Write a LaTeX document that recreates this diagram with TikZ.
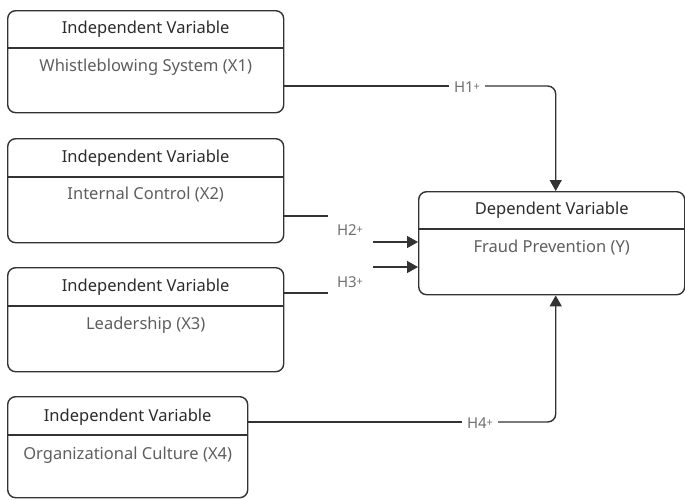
\documentclass[tikz,border=0pt]{standalone}
\usepackage{fontspec}
\setmainfont{Noto Sans}
\usetikzlibrary{arrows.meta,calc}
\definecolor{linec}{HTML}{333333}
\definecolor{titlec}{HTML}{2B2B2B}
\definecolor{subc}{HTML}{5E5E5E}
\definecolor{labc}{HTML}{707070}
\newcommand{\smallplus}{\raisebox{1.5pt}{\fontsize{11}{12}\selectfont +}}
\begin{document}
\begin{tikzpicture}[x=1pt,y=-1pt,
  varbox/.style={draw=linec,line width=1.4pt,rounded corners=8pt,anchor=north west,inner sep=0pt},
  divline/.style={draw=linec,line width=1.4pt},
  titletext/.style={text=titlec,font=\fontsize{16.5}{19}\selectfont,inner sep=0pt},
  subtext/.style={text=subc,font=\fontsize{16.5}{19}\selectfont,inner sep=0pt},
  hlab/.style={text=labc,font=\fontsize{15}{17}\selectfont,inner sep=5pt},
  conn/.style={draw=linec,line width=1.4pt},
  arr/.style={conn,-{Triangle[length=11pt,width=12pt]}}
]
\useasboundingbox (0,0) rectangle (685,499);
% boxes
\node[varbox,minimum width=276pt,minimum height=102pt] (b1) at (7,10) {};
\node[varbox,minimum width=276pt,minimum height=104pt] (b2) at (7,138) {};
\node[varbox,minimum width=276pt,minimum height=104pt] (b3) at (7,267) {};
\node[varbox,minimum width=240pt,minimum height=101pt] (b4) at (7,396) {};
\node[varbox,minimum width=266pt,minimum height=103pt] (y) at (418,191) {};
% dividers
\draw[divline] ($(b1.north west)+(0,38)$) -- ($(b1.north east)+(0,38)$);
\draw[divline] ($(b2.north west)+(0,39)$) -- ($(b2.north east)+(0,39)$);
\draw[divline] ($(b3.north west)+(0,39)$) -- ($(b3.north east)+(0,39)$);
\draw[divline] ($(b4.north west)+(0,39)$) -- ($(b4.north east)+(0,39)$);
\draw[divline] ($(y.north west)+(0,38)$) -- ($(y.north east)+(0,38)$);
% texts
\node[titletext] (t1) at ($(b1.north)+(0,19)$) {Independent Variable};
\node[subtext] (s1) at ($(b1.north)+(0,57)$) {Whistleblowing System (X1)};
\node[titletext] (t2) at ($(b2.north)+(0,20)$) {Independent Variable};
\node[subtext] (s2) at ($(b2.north)+(0,57)$) {Internal Control (X2)};
\node[titletext] (t3) at ($(b3.north)+(0,20)$) {Independent Variable};
\node[subtext] (s3) at ($(b3.north)+(0,58)$) {Leadership (X3)};
\node[titletext] (t4) at ($(b4.north)+(0,21)$) {Independent Variable};
\node[subtext] (s4) at ($(b4.north)+(0,59)$) {Organizational Culture (X4)};
\node[titletext] (ty) at ($(y.north)+(0,19)$) {Dependent Variable};
\node[subtext] (sy) at ($(y.north)+(0,57)$) {Fraud Prevention (Y)};
% labels
\node[hlab] (h1) at (467,87) {H1\smallplus};
\node[hlab] (h2) at (350,230) {H2\smallplus};
\node[hlab] (h3) at (350,282) {H3\smallplus};
\node[hlab] (h4) at (480,423) {H4\smallplus};
% connector coordinates
\coordinate (ytop) at ($(y.north)+(4,0)$);
\coordinate (ybot) at ($(y.south)+(4,0)$);
\coordinate (h2e) at (328,216);
\coordinate (h3e) at (328,293);
\coordinate (h2s) at (373,242);
\coordinate (h3s) at (373,267);
% H1
\draw[conn] (b1.east |- 0,86) -- (h1.west |- 0,86);
\draw[arr,rounded corners=8pt] (h1.east |- 0,86) -| (ytop);
% H4
\draw[conn] (b4.east |- 0,422) -- (h4.west |- 0,422);
\draw[arr,rounded corners=8pt] (h4.east |- 0,422) -| (ybot);
% H2, H3
\draw[conn] (b2.east |- h2e) -- (h2e);
\draw[conn] (b3.east |- h3e) -- (h3e);
\draw[arr] (h2s) -- (y.west |- h2s);
\draw[arr] (h3s) -- (y.west |- h3s);
\end{tikzpicture}
\end{document}
